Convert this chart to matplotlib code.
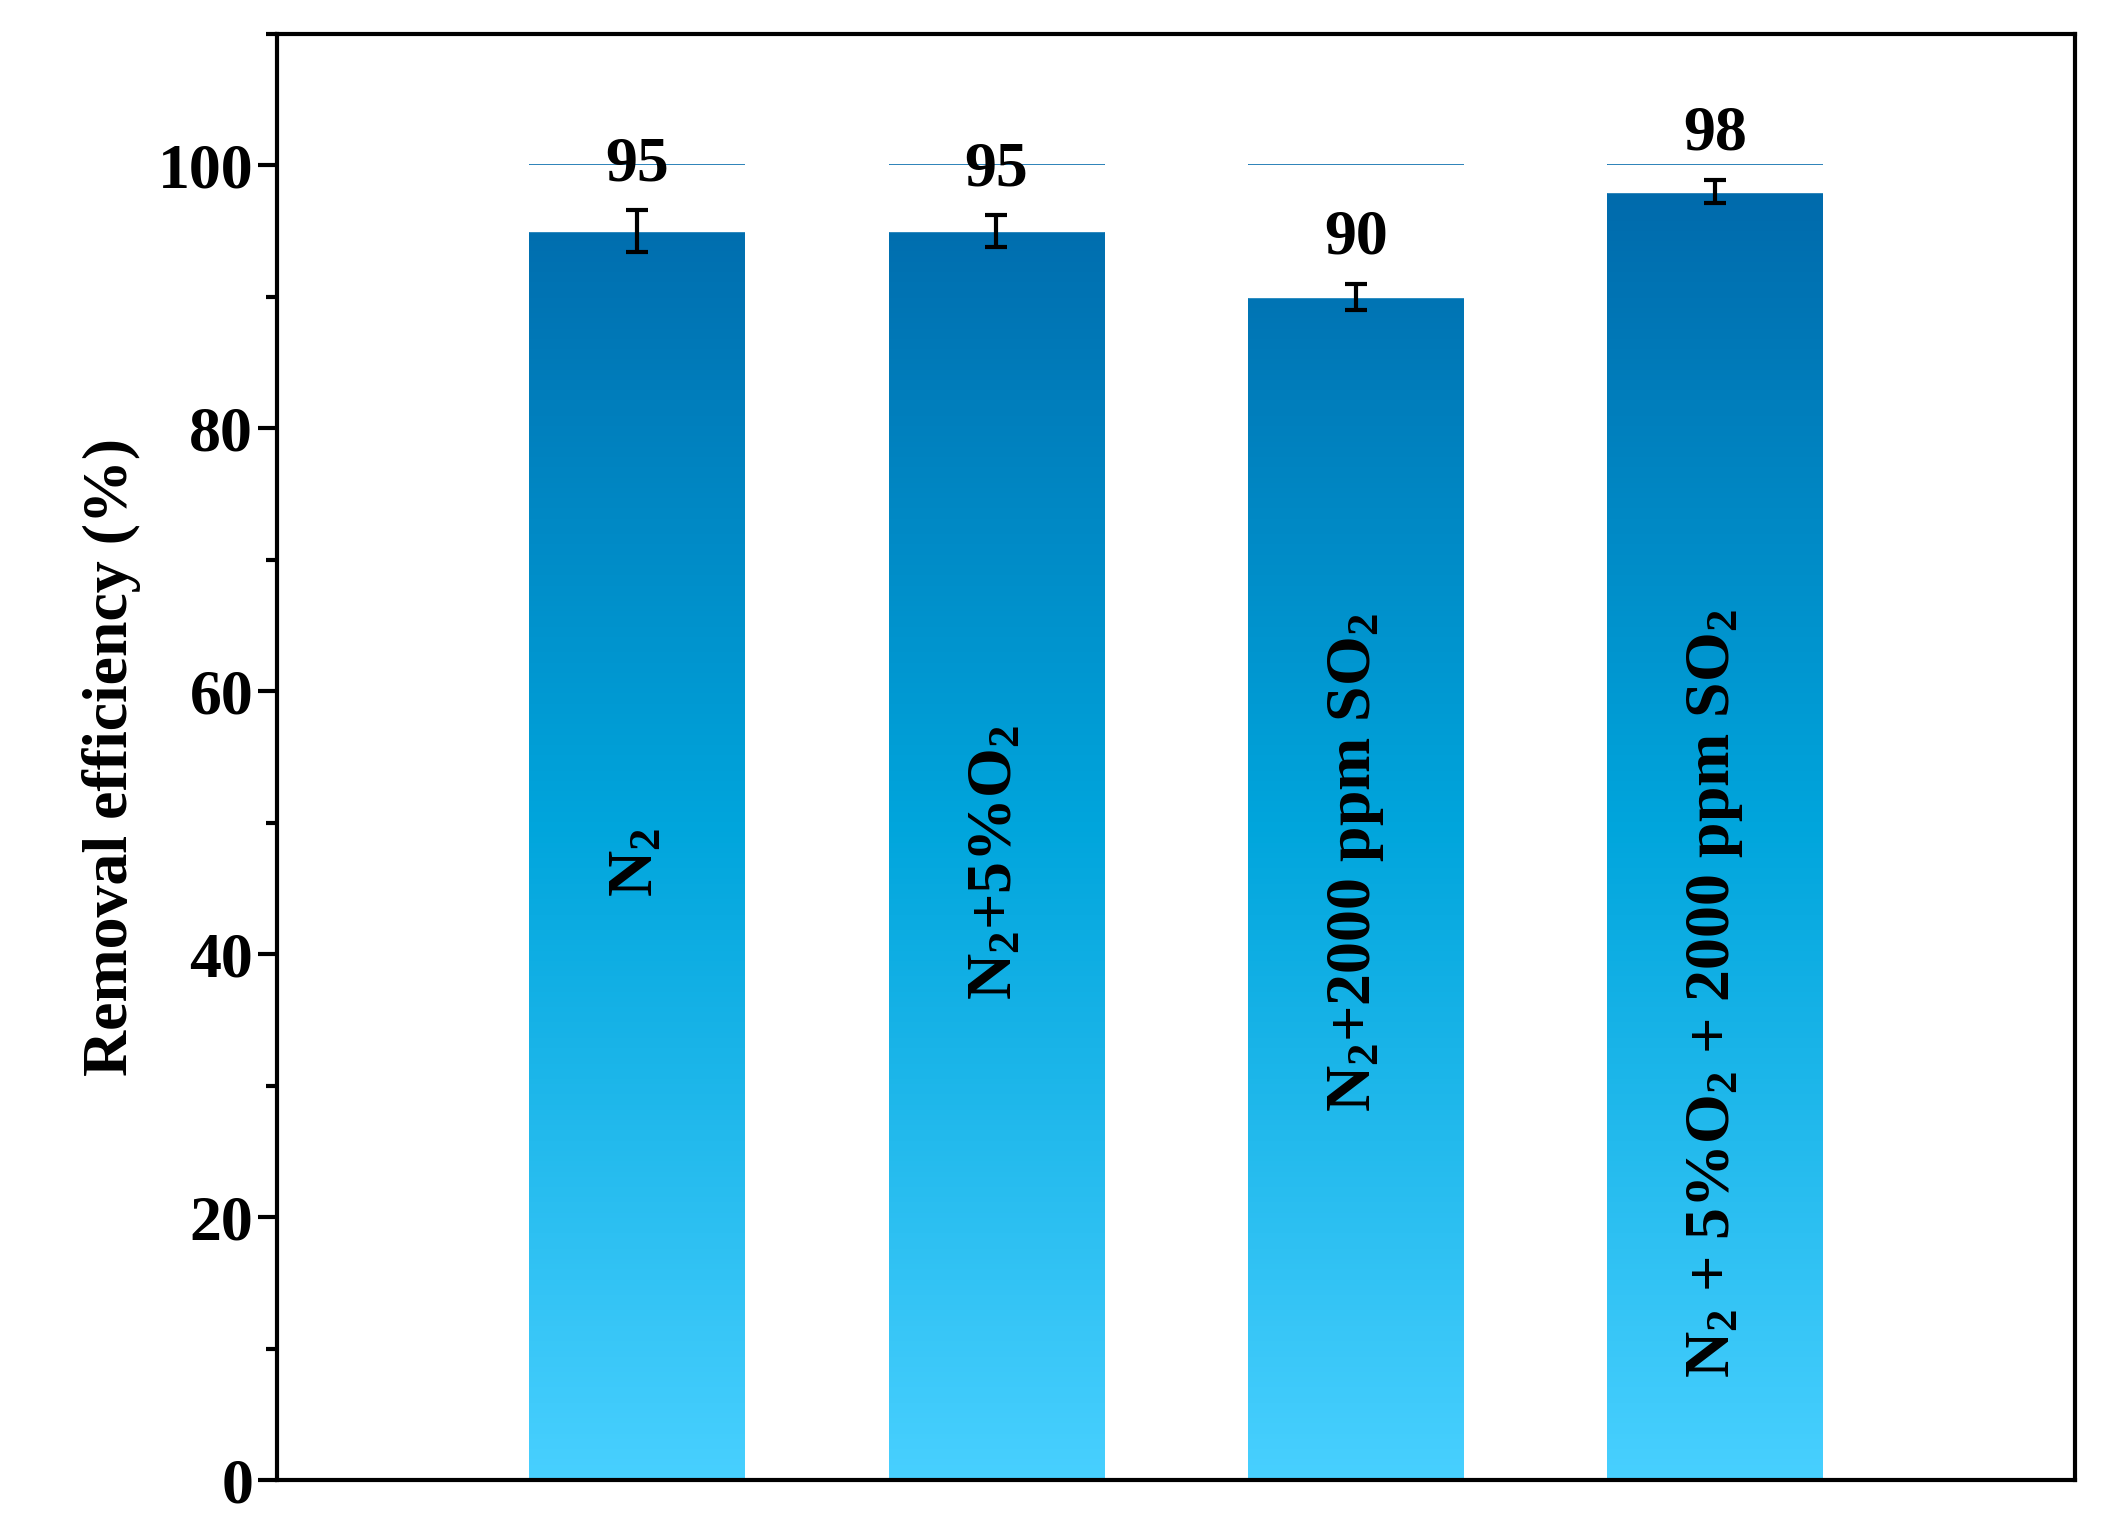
import matplotlib
matplotlib.use("Agg")
import matplotlib.pyplot as plt
import numpy as np
from matplotlib.colors import LinearSegmentedColormap
from matplotlib.ticker import MultipleLocator

plt.rcParams['font.family'] = 'Liberation Serif'
plt.rcParams['font.weight'] = 'bold'
plt.rcParams['mathtext.fontset'] = 'custom'
plt.rcParams['mathtext.rm'] = 'Liberation Serif:bold'
plt.rcParams['mathtext.it'] = 'Liberation Serif:bold'
plt.rcParams['mathtext.bf'] = 'Liberation Serif:bold'

labels = [r'N$_2$', r'N$_2$+5%O$_2$', r'N$_2$+2000 ppm SO$_2$', r'N$_2$ + 5%O$_2$ + 2000 ppm SO$_2$']
values = [95, 95, 90, 98]
errors = [1.6, 1.2, 1.0, 0.9]
label_y = [47, 47, 47, 37]

fig = plt.figure(figsize=(21.02, 15.31), dpi=100)
ax = fig.add_axes([0.132, 0.033, 0.855, 0.945])
cmap = LinearSegmentedColormap.from_list('g', ['#48D0FF', '#00A5DC', '#0068AA'])
x = np.arange(1, len(values) + 1)
w = 0.6
grad = np.linspace(0, 1, 256).reshape(-1, 1)
for xi, v, e, lab, ly in zip(x, values, errors, labels, label_y):
    ax.imshow(grad, cmap=cmap, extent=[xi - w/2, xi + w/2, 0, 100], origin='lower',
              aspect='auto', vmin=0, vmax=1, zorder=1)
    ax.fill_between([xi - w/2, xi + w/2], v, 100, color='white', zorder=2)
    ax.errorbar(xi, v, yerr=e, color='black', capsize=8, elinewidth=3, capthick=3, zorder=3)
    ax.text(xi, v + e + 1.2, str(v), ha='center', va='bottom', fontsize=46, fontweight='bold', zorder=4)
    ax.text(xi, ly, lab, rotation=90, ha='center', va='center', fontsize=46, fontweight='bold', zorder=4)

ax.set_xlim(0, 5)
ax.set_ylim(0, 110)
ax.set_xticks([])
ax.yaxis.set_major_locator(MultipleLocator(20))
ax.yaxis.set_minor_locator(MultipleLocator(10))
ax.tick_params(axis='y', which='major', length=14, width=3, labelsize=46, direction='out')
ax.tick_params(axis='y', which='minor', length=8, width=3, direction='out')
for s in ax.spines.values():
    s.set_linewidth(3)
ax.set_ylabel('Removal efficiency (%)', fontsize=46, fontweight='bold', labelpad=12)
fig.savefig('out.png', dpi=100)
